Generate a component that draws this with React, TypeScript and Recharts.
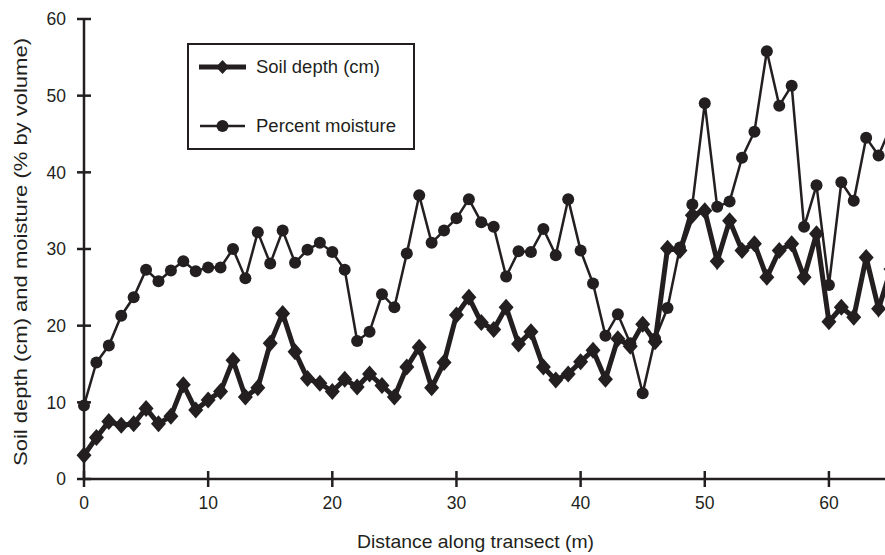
import React from 'react';
import { LineChart, Line, XAxis, YAxis, Label } from 'recharts';

// distance along the transect (m)
const distance = [
  0, 1, 2, 3, 4, 5, 6, 7, 8, 9,
  10, 11, 12, 13, 14, 15, 16, 17, 18, 19,
  20, 21, 22, 23, 24, 25, 26, 27, 28, 29,
  30, 31, 32, 33, 34, 35, 36, 37, 38, 39,
  40, 41, 42, 43, 44, 45, 46, 47, 48, 49,
  50, 51, 52, 53, 54, 55, 56, 57, 58, 59,
  60, 61, 62, 63, 64, 65,
];

// soil depth (cm)
const soilDepth = [
  3.1, 5.4, 7.5, 7.0, 7.2, 9.2, 7.2, 8.2, 12.3, 9.0,
  10.3, 11.4, 15.5, 10.7, 11.9, 17.7, 21.6, 16.6, 13.1, 12.5,
  11.4, 13.0, 12.0, 13.7, 12.2, 10.7, 14.6, 17.2, 11.9, 15.2,
  21.4, 23.7, 20.4, 19.5, 22.4, 17.6, 19.2, 14.6, 12.9, 13.7,
  15.3, 16.8, 13.0, 18.3, 17.3, 20.2, 17.9, 30.1, 29.8, 34.4,
  35.0, 28.4, 33.7, 29.8, 30.7, 26.3, 29.8, 30.7, 26.3, 32.0,
  20.5, 22.4, 21.1, 28.9, 22.2, 27.4,
];

// percent moisture (% by volume)
const moisture = [
  9.6, 15.2, 17.4, 21.3, 23.7, 27.3, 25.8, 27.2, 28.4, 27.1,
  27.6, 27.6, 30.0, 26.2, 32.2, 28.1, 32.4, 28.2, 29.9, 30.8,
  29.6, 27.3, 18.0, 19.2, 24.1, 22.4, 29.4, 37.0, 30.8, 32.4,
  34.0, 36.5, 33.5, 32.9, 26.4, 29.7, 29.6, 32.6, 29.2, 36.5,
  29.8, 25.5, 18.7, 21.5, 17.7, 11.2, 18.3, 22.3, 30.2, 35.8,
  49.0, 35.5, 36.2, 41.9, 45.3, 55.8, 48.7, 51.3, 32.9, 38.3,
  25.3, 38.7, 36.3, 44.5, 42.2, 46.0,
];

const xTicks = [0, 10, 20, 30, 40, 50, 60];
const yTicks = [0, 10, 20, 30, 40, 50, 60];

const INK = '#231f20';
const FONT = '"Liberation Sans", Arial, Helvetica, sans-serif';

// plot frame (matches chart margins / axis sizes below)
const PLOT_LEFT = 84;
const PLOT_BOTTOM = 479;

const data = distance.map((d, i) => ({
  distance: d,
  soil: soilDepth[i],
  moisture: moisture[i],
}));

const Diamond = (props: any) => {
  const { cx, cy, index } = props;
  if (cx == null || cy == null) return null;
  return (
    <polygon
      key={`dia-${index}`}
      points={`${cx},${cy - 8.5} ${cx + 7.5},${cy} ${cx},${cy + 8.5} ${cx - 7.5},${cy}`}
      fill={INK}
    />
  );
};

const Dot = (props: any) => {
  const { cx, cy, index } = props;
  if (cx == null || cy == null) return null;
  return <circle key={`dot-${index}`} cx={cx} cy={cy} r={6} fill={INK} />;
};

// ticks cross the axis line, like the printed figure
const YTick = ({ y, payload }: any) => (
  <g>
    <line x1={PLOT_LEFT - 7} x2={PLOT_LEFT + 7} y1={y} y2={y} stroke={INK} strokeWidth={2.5} />
    <text x={PLOT_LEFT - 18} y={y} dy="0.36em" textAnchor="end" fontSize={17.5} fontFamily={FONT} fill={INK}>
      {payload.value}
    </text>
  </g>
);

const XTick = ({ x, payload }: any) => (
  <g>
    <line x1={x} x2={x} y1={PLOT_BOTTOM - 8} y2={PLOT_BOTTOM + 8} stroke={INK} strokeWidth={2.5} />
    <text x={x} y={PLOT_BOTTOM + 24} dy="0.36em" textAnchor="middle" fontSize={17.5} fontFamily={FONT} fill={INK}>
      {payload.value}
    </text>
  </g>
);

const LegendBox = () => (
  <svg
    width={228}
    height={107}
    style={{ position: 'absolute', left: 187, top: 43 }}
  >
    <rect x={1} y={1} width={226} height={105} fill="#fff" stroke={INK} strokeWidth={2} />
    <line x1={12} x2={59} y1={24} y2={24} stroke={INK} strokeWidth={5} />
    <polygon points="35.5,17 42,24 35.5,31 29,24" fill={INK} />
    <text x={69} y={24} dy="0.36em" fontSize={17.5} fontFamily={FONT} fill={INK} textLength={124} lengthAdjust="spacingAndGlyphs">
      Soil depth (cm)
    </text>
    <line x1={13} x2={58} y1={83} y2={83} stroke={INK} strokeWidth={2.5} />
    <circle cx={35.5} cy={83} r={6} fill={INK} />
    <text x={69} y={83} dy="0.36em" fontSize={17.5} fontFamily={FONT} fill={INK} textLength={140} lengthAdjust="spacingAndGlyphs">
      Percent moisture
    </text>
  </svg>
);

export default function App() {
  return (
    <div style={{ position: 'absolute', left: 0, top: 0, width: 885, height: 555, overflow: 'hidden', background: '#fff' }}>
      <LineChart width={891} height={555} data={data} margin={{ top: 19, right: 0, bottom: 0, left: 0 }}>
        <XAxis
          dataKey="distance"
          type="number"
          domain={[0, 65]}
          ticks={xTicks}
          interval={0}
          height={76}
          tickLine={false}
          tick={<XTick />}
          axisLine={{ stroke: INK, strokeWidth: 2.5 }}
        >
          <Label
            content={() => (
              <text
                x={475.5}
                y={541}
                dy="0.36em"
                textAnchor="middle"
                fontSize={18.5}
                fontFamily={FONT}
                fill={INK}
                textLength={237}
                lengthAdjust="spacingAndGlyphs"
              >
                Distance along transect (m)
              </text>
            )}
          />
        </XAxis>
        <YAxis
          type="number"
          domain={[0, 60]}
          ticks={yTicks}
          interval={0}
          width={84}
          tickLine={false}
          tick={<YTick />}
          axisLine={{ stroke: INK, strokeWidth: 2.5 }}
        >
          <Label
            content={({ viewBox }: any) => {
              const cy = viewBox.y + viewBox.height / 2 + 3;
              return (
                <text
                  x={21}
                  y={cy}
                  dy="0.36em"
                  transform={`rotate(-90, 21, ${cy})`}
                  textAnchor="middle"
                  fontSize={18}
                  fontFamily={FONT}
                  fill={INK}
                  textLength={428}
                  lengthAdjust="spacingAndGlyphs"
                >
                  Soil depth (cm) and moisture (% by volume)
                </text>
              );
            }}
          />
        </YAxis>
        <Line
          dataKey="moisture"
          stroke={INK}
          strokeWidth={2.5}
          dot={Dot}
          activeDot={false}
          isAnimationActive={false}
        />
        <Line
          dataKey="soil"
          stroke={INK}
          strokeWidth={5}
          strokeLinejoin="miter"
          dot={Diamond}
          activeDot={false}
          isAnimationActive={false}
        />
      </LineChart>
      <LegendBox />
    </div>
  );
}
